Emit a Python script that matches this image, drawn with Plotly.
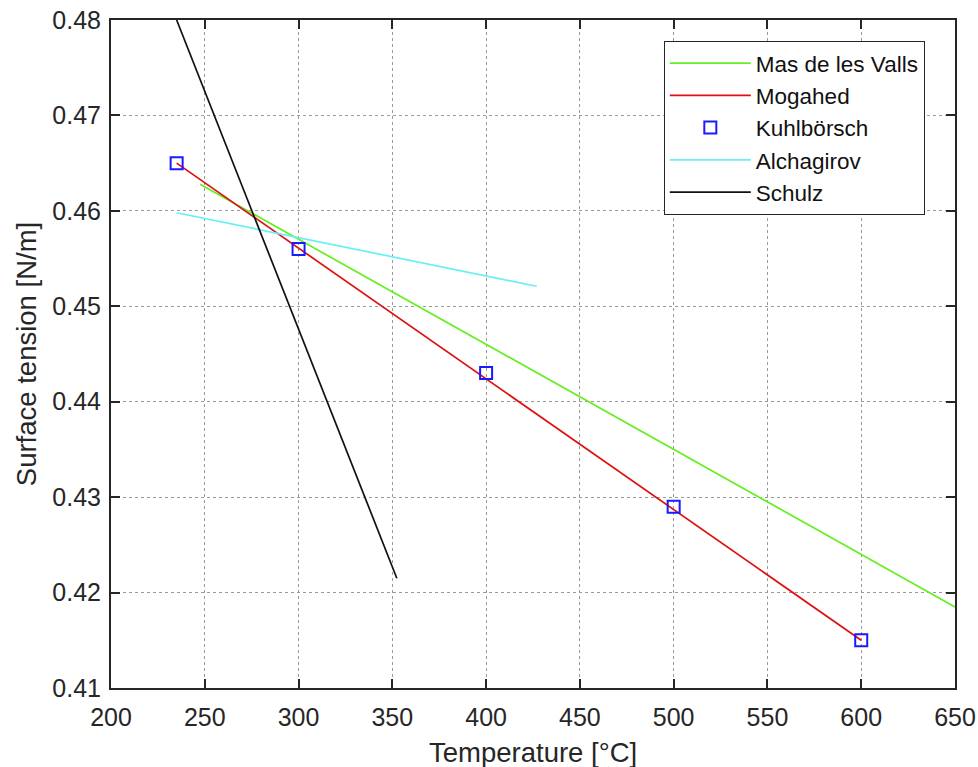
import plotly.graph_objects as go

# Data
mas_T = [247.5, 650]
mas_sigma = [0.4628, 0.4185]

mog_T = [235, 600]
mog_sigma = [0.465, 0.415]

kuhl_T = [235, 300, 400, 500, 600]
kuhl_sigma = [0.465, 0.456, 0.443, 0.429, 0.415]

alch_T = [235, 427]
alch_sigma = [0.4598, 0.4521]

schulz_T = [235, 352.4]
schulz_sigma = [0.480, 0.4215]

x_ticks = [200, 250, 300, 350, 400, 450, 500, 550, 600, 650]
y_ticks = [0.41, 0.42, 0.43, 0.44, 0.45, 0.46, 0.47, 0.48]

FONT = "Liberation Sans, Arial, sans-serif"

fig = go.Figure()
fig.add_trace(go.Scatter(x=mas_T, y=mas_sigma, mode="lines", name="Mas de les Valls",
                         line=dict(color="#66ee22", width=1.7)))
fig.add_trace(go.Scatter(x=mog_T, y=mog_sigma, mode="lines", name="Mogahed",
                         line=dict(color="#dd1111", width=1.7)))
fig.add_trace(go.Scatter(x=kuhl_T, y=kuhl_sigma, mode="markers", name="Kuhlbörsch",
                         marker=dict(symbol="square-open", color="#1a1aff", size=12,
                                     line=dict(width=2, color="#1a1aff"))))
fig.add_trace(go.Scatter(x=alch_T, y=alch_sigma, mode="lines", name="Alchagirov",
                         line=dict(color="#66f0f5", width=1.7)))
fig.add_trace(go.Scatter(x=schulz_T, y=schulz_sigma, mode="lines", name="Schulz",
                         line=dict(color="#111111", width=1.7)))

axis_common = dict(
    showline=True, linecolor="#262626", linewidth=2, mirror="ticks",
    ticks="inside", ticklen=9, tickwidth=2, tickcolor="#262626",
    showgrid=True, gridcolor="#9a9a9a", griddash="dot", gridwidth=1,
    zeroline=False, tickfont=dict(family=FONT, size=25, color="#262626"),
)

fig.update_layout(
    width=978, height=767,
    paper_bgcolor="white", plot_bgcolor="white",
    margin=dict(l=111, r=23, t=20, b=79, autoexpand=False),
    font=dict(family=FONT, color="#262626"),
    xaxis=dict(range=[200, 650], tickvals=x_ticks, ticktext=[str(v) for v in x_ticks],
               ticklabelstandoff=6, automargin=False,
               **axis_common),
    yaxis=dict(range=[0.41, 0.48], tickvals=y_ticks, ticktext=[f"{v:.2f}" for v in y_ticks],
               title=dict(text="Surface tension [N/m]", font=dict(family=FONT, size=27.5), standoff=8),
               ticklabelstandoff=3, automargin=False,
               **axis_common),
    legend=dict(x=0.655, y=0.9686, xanchor="left", yanchor="top",
                bordercolor="#262626", borderwidth=1, bgcolor="white",
                font=dict(family=FONT, size=22.5, color="#111111"),
                tracegroupgap=0, itemwidth=81),
    showlegend=True,
    annotations=[dict(text="Temperature [°C]", xref="paper", yref="paper",
                      x=0.5, y=-0.0973, xanchor="center", yanchor="middle",
                      showarrow=False, font=dict(family=FONT, size=27.5, color="#262626"))],
)

fig.write_html("out.html", config={"displayModeBar": False},
               post_script="document.body.style.margin='0';document.body.style.overflow='hidden';")
